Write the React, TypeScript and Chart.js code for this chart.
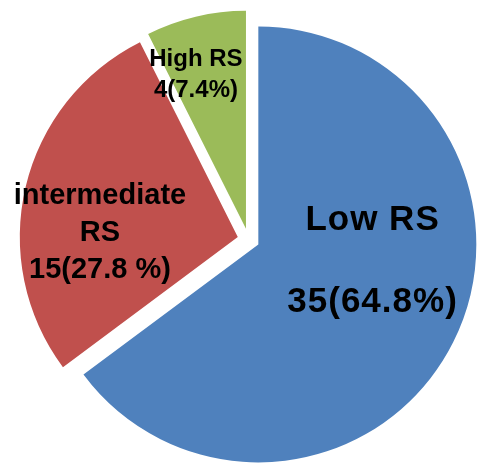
import { useEffect, useRef } from "react";
import { Chart, registerables } from "chart.js";

Chart.register(...registerables);

// ---- data ----
const categories = ["Low RS", "intermediate RS", "High RS"];
const counts = [35, 15, 4];
const percentTexts = ["64.8%", "27.8 %", "7.4%"];
const nameLines = [["Low RS"], ["intermediate", "RS"], ["High RS"]];

// ---- style ----
const colors = ["#4F81BD", "#C0504D", "#9BBB59"];
const explodeDistance = 11;
const fontSizes = [35, 29, 24];
const lineHeights = [82, 37, 31];
const letterSpacings = [1, 0, 0];
const labelAngleFrac = [0.416, 0.394, 0.333];
const labelRadiusFrac = [0.528, 0.633, 0.751];

const explodePlugin = {
  id: "explodeSlices",
  afterDatasetsUpdate(chart: any) {
    const meta = chart.getDatasetMeta(0);
    meta.data.forEach((arc: any) => {
      const mid = (arc.startAngle + arc.endAngle) / 2;
      arc.x += Math.cos(mid) * explodeDistance;
      arc.y += Math.sin(mid) * explodeDistance;
    });
  },
};

const labelPlugin = {
  id: "sliceLabels",
  afterDatasetsDraw(chart: any) {
    const ctx = chart.ctx as CanvasRenderingContext2D;
    const meta = chart.getDatasetMeta(0);
    meta.data.forEach((arc: any, i: number) => {
      const { x, y, startAngle, endAngle, outerRadius } = arc;
      const a = startAngle + (endAngle - startAngle) * labelAngleFrac[i];
      const r = outerRadius * labelRadiusFrac[i];
      const cx = x + Math.cos(a) * r;
      const cy = y + Math.sin(a) * r;
      const lines = [...nameLines[i], `${counts[i]}(${percentTexts[i]})`];
      const fs = fontSizes[i];
      const lh = lineHeights[i];
      ctx.save();
      ctx.fillStyle = "#000";
      ctx.font = `bold ${fs}px "Liberation Sans", Arial, sans-serif`;
      ctx.textAlign = "center";
      ctx.textBaseline = "alphabetic";
      (ctx as any).letterSpacing = `${letterSpacings[i]}px`;
      const capH = fs * 0.716;
      const first = cy - ((lines.length - 1) * lh) / 2 + capH / 2;
      lines.forEach((t, k) => ctx.fillText(t, cx, first + k * lh));
      ctx.restore();
    });
  },
};

export default function App() {
  const ref = useRef<HTMLCanvasElement | null>(null);
  useEffect(() => {
    if (!ref.current) return;
    const chart = new Chart(ref.current, {
      type: "pie",
      data: {
        labels: categories,
        datasets: [
          {
            data: counts,
            backgroundColor: colors,
            borderWidth: 0,
          },
        ],
      },
      options: {
        responsive: false,
        animation: false,
        events: [],
        layout: { padding: { left: 30.5, right: 12.5, top: 21.5, bottom: 5.5 } },
        plugins: {
          legend: { display: false },
          tooltip: { enabled: false },
        },
      },
      plugins: [explodePlugin, labelPlugin],
    });
    return () => chart.destroy();
  }, []);
  return (
    <div style={{ position: "fixed", left: 0, top: 0, width: 479, height: 463, background: "#fff" }}>
      <canvas ref={ref} width={479} height={463} style={{ display: "block" }} />
    </div>
  );
}
